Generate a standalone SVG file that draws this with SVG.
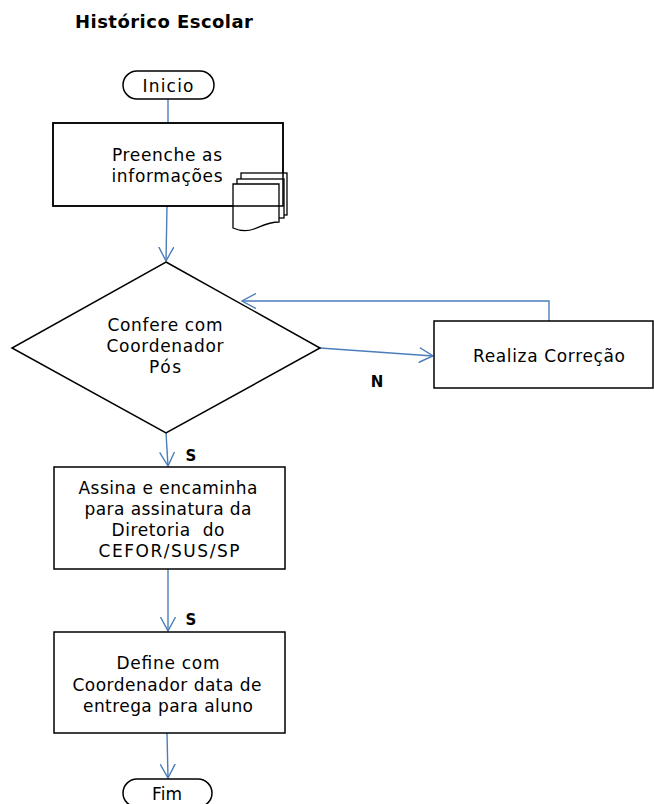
<svg xmlns="http://www.w3.org/2000/svg" width="654" height="804" viewBox="0 0 654 804">
  <style>
    .shape { fill: #ffffff; stroke: #000000; stroke-width: 1.5; }
    .outline { fill: none; stroke: #000000; stroke-width: 1.5; }
    .page { fill: #ffffff; stroke: #000000; stroke-width: 1.3; }
    .t { font-family: "DejaVu Sans", Verdana, sans-serif; font-size: 17px; fill: #000000; text-anchor: middle; }
    .lbl { font-family: "DejaVu Sans", Verdana, sans-serif; font-size: 15px; font-weight: bold; fill: #000000; text-anchor: middle; }
    .title { font-family: "DejaVu Sans", Verdana, sans-serif; font-size: 18px; font-weight: bold; fill: #000000; }
    .conn { fill: none; stroke: #4A7EBB; stroke-width: 1.4; }
  </style>
  <defs>
    <marker id="arrow" markerUnits="userSpaceOnUse" viewBox="0 0 15 16" markerWidth="15" markerHeight="16" refX="14" refY="8" orient="auto">
      <path d="M0,0.5 L14,8 L0,15.5" fill="none" stroke="#4A7EBB" stroke-width="1.4"/>
    </marker>
  </defs>

  <rect width="654" height="804" fill="#ffffff"/>

  <text class="title" x="75" y="28" textLength="178" lengthAdjust="spacing">Histórico Escolar</text>

  <g id="connectors">
    <path class="conn" d="M168,99 L168,123"/>
    <path class="conn" d="M167,206 L166,261" marker-end="url(#arrow)"/>
    <path class="conn" d="M320,348 L433,356" marker-end="url(#arrow)"/>
    <path class="conn" d="M549,321 L549,301 L242,301" marker-end="url(#arrow)"/>
    <path class="conn" d="M166,433 L168,466" marker-end="url(#arrow)"/>
    <path class="conn" d="M168,569 L168,631" marker-end="url(#arrow)"/>
    <path class="conn" d="M167,733 L168,778" marker-end="url(#arrow)"/>
  </g>

  <g id="inicio">
    <rect class="shape" x="123" y="71" width="91" height="28" rx="14" ry="14"/>
    <text class="t" x="168" y="92" textLength="51" lengthAdjust="spacing">Inicio</text>
  </g>

  <g id="preenche">
    <rect class="shape" x="53" y="123" width="230" height="83"/>
    <rect class="page" x="241" y="173" width="46" height="42"/>
    <rect class="page" x="237" y="179" width="47" height="39"/>
    <path class="page" d="M233,184 H279 V222 C268,222 262,226 254,229 C246,232 240,231 233,228 Z"/>
    <rect class="outline" x="53" y="123" width="230" height="83"/>
    <text class="t" x="167" y="161" textLength="110" lengthAdjust="spacing">Preenche as</text>
    <text class="t" x="167" y="182" textLength="111" lengthAdjust="spacing">informações</text>
  </g>

  <g id="confere">
    <polygon class="shape" points="166,262 320,348 166,433 12,348"/>
    <text class="t" x="165" y="331" textLength="115" lengthAdjust="spacing">Confere com</text>
    <text class="t" x="165" y="352" textLength="117" lengthAdjust="spacing">Coordenador</text>
    <text class="t" x="165" y="373" textLength="32" lengthAdjust="spacing">Pós</text>
  </g>

  <g id="realiza">
    <rect class="shape" x="434" y="321" width="219" height="67"/>
    <text class="t" x="549" y="362" textLength="152" lengthAdjust="spacing">Realiza Correção</text>
  </g>

  <g id="assina">
    <rect class="shape" x="54" y="467" width="231" height="102"/>
    <text class="t" x="168" y="494" textLength="179" lengthAdjust="spacing">Assina e encaminha</text>
    <text class="t" x="168" y="515" textLength="167" lengthAdjust="spacing">para assinatura da</text>
    <text class="t" x="168" y="536" textLength="113" lengthAdjust="spacing" xml:space="preserve">Diretoria  do</text>
    <text class="t" x="169" y="557" textLength="141" lengthAdjust="spacing">CEFOR/SUS/SP</text>
  </g>

  <g id="define">
    <rect class="shape" x="54" y="632" width="231" height="101"/>
    <text class="t" x="168" y="669" textLength="103" lengthAdjust="spacing">Define com</text>
    <text class="t" x="167" y="691" textLength="189" lengthAdjust="spacing">Coordenador data de</text>
    <text class="t" x="168" y="712" textLength="170" lengthAdjust="spacing">entrega para aluno</text>
  </g>

  <g id="fim">
    <rect class="shape" x="123" y="779" width="89" height="28" rx="14" ry="14"/>
    <text class="t" x="167" y="800" textLength="30" lengthAdjust="spacing">Fim</text>
  </g>

  <g id="labels">
    <text class="lbl" x="191" y="461">S</text>
    <text class="lbl" x="191" y="625">S</text>
    <text class="lbl" x="377" y="387">N</text>
  </g>
</svg>
